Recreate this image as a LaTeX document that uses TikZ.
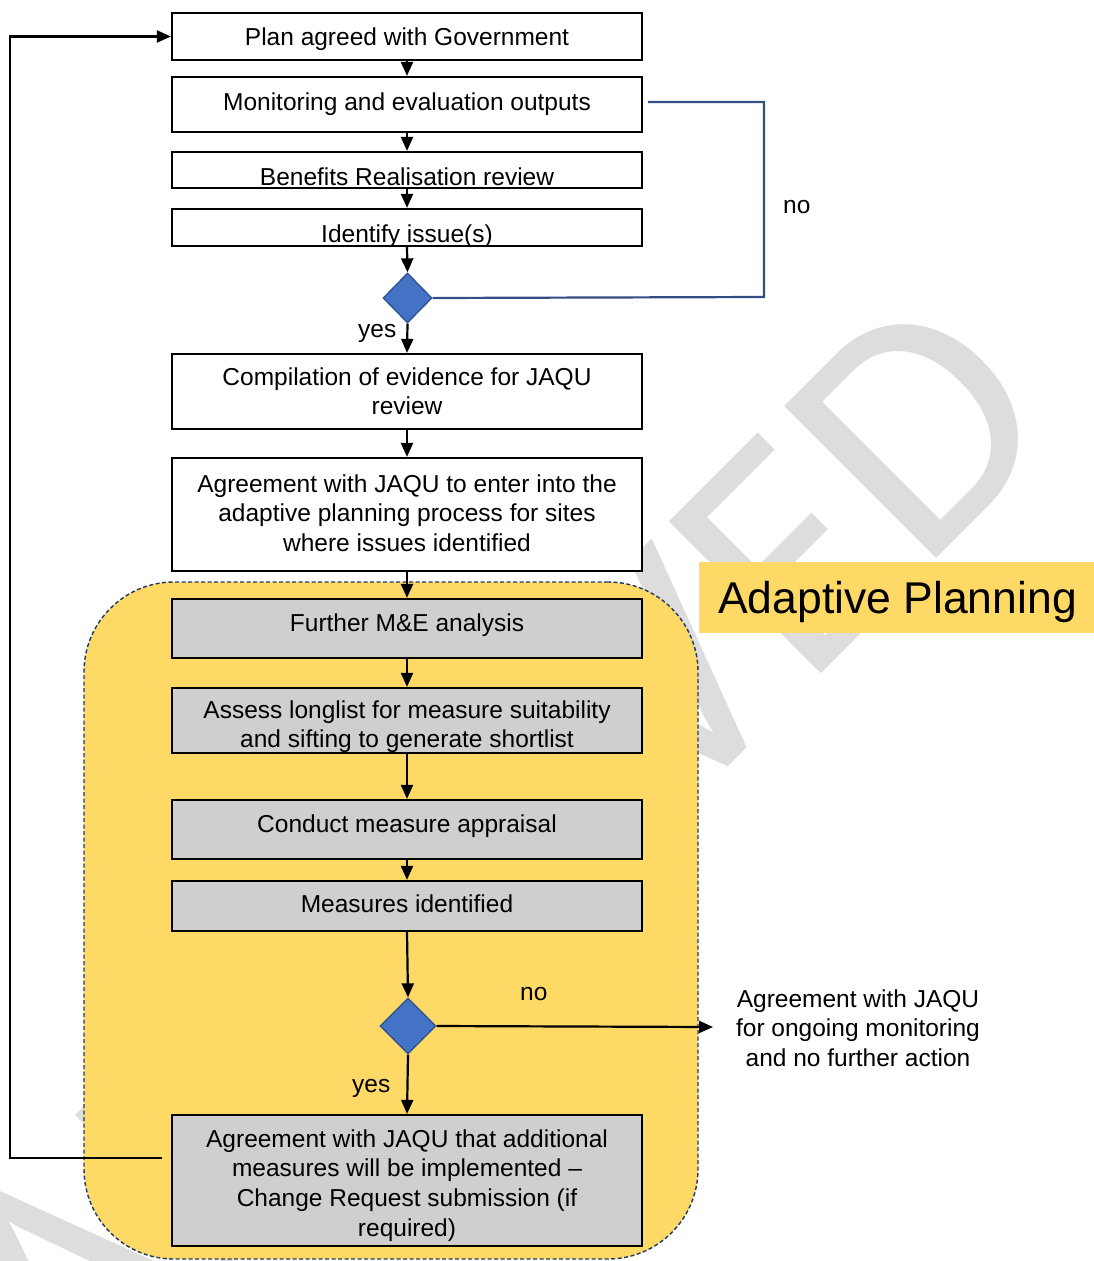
\documentclass[tikz,border=0pt]{standalone}
\usepackage{fontspec}
\setmainfont{Liberation Sans}
\newfontfamily\wmfont{Carlito}
\usetikzlibrary{shapes.geometric,arrows.meta}
\definecolor{apyellow}{RGB}{255,217,102}
\definecolor{boxgray}{RGB}{207,207,207}
\definecolor{dnavy}{RGB}{32,56,100}
\definecolor{dblue}{RGB}{68,114,196}
\definecolor{dblueedge}{RGB}{47,82,143}
\definecolor{loopblue}{RGB}{50,78,130}
\definecolor{wmgray}{RGB}{221,221,221}
\newcommand{\mltext}[1]{\parbox[t]{470pt}{\centering #1}}
\begin{document}
\begin{tikzpicture}[x=1pt,y=-1pt,
  wbox/.style={rectangle, draw=black, line width=2.2pt, fill=white, minimum width=470pt, inner sep=0pt},
  gbox/.style={wbox, fill=boxgray},
  txt/.style={inner sep=0pt, anchor=base, font=\fontsize{24.5}{29.7}\selectfont},
  arr/.style={line width=2.2pt, -{Triangle[length=14pt,width=12pt]}},
  blueline/.style={line width=2.2pt, draw=loopblue},
  dec/.style={diamond, draw=dblueedge, fill=dblue, line width=1.3pt, inner sep=0pt, aspect=1},
]
\useasboundingbox (0,0) rectangle (1094,1261);
\fill[white] (0,0) rectangle (1094,1261);

% watermark
\node[rotate=45, anchor=base east, inner sep=0pt, text=wmgray,
      font=\wmfont\fontsize{335}{335}\selectfont] (wm) at (1066,429) {ARCHIVED};

% adaptive planning region
\node[rectangle, draw=dnavy, fill=apyellow, line width=1.4pt, dash pattern=on 4pt off 2.5pt,
      rounded corners=90pt, minimum width=614pt, minimum height=677pt, inner sep=0pt] (region) at (391,920.5) {};

% adaptive planning title
\node[rectangle, fill=apyellow, minimum width=395pt, minimum height=71pt, inner sep=0pt] (aptitle) at (896.5,597.5) {};
\node[inner sep=0pt, anchor=base west, font=\fontsize{44.5}{50}\selectfont] (aptext) at (718,613) {Adaptive Planning};

% boxes
\node[wbox, minimum height=47pt] (b1) at (407,36.5) {};
\node[wbox, minimum height=55pt] (b2) at (407,104.5) {};
\node[wbox, minimum height=36pt] (b3) at (407,170) {};
\node[wbox, minimum height=37pt] (b4) at (407,227.5) {};
\node[dec, minimum width=49pt, minimum height=50pt] (d1) at (407.5,298) {};
\node[wbox, minimum height=75pt] (b5) at (407,391.5) {};
\node[wbox, minimum height=113pt] (b6) at (407,514.5) {};
\node[gbox, minimum height=59pt] (b7) at (407,628.5) {};
\node[gbox, minimum height=65pt] (b8) at (407,720.5) {};
\node[gbox, minimum height=59pt] (b9) at (407,829.5) {};
\node[gbox, minimum height=50pt] (b10) at (407,906) {};
\node[dec, minimum width=56pt, minimum height=56pt] (d2) at (408,1026) {};
\node[gbox, minimum height=131pt] (b11) at (407,1180.5) {};

% texts
\node[txt] (t1) at (407,45) {Plan agreed with Government};
\node[txt] (t2) at (407,110) {Monitoring and evaluation outputs};
\node[txt] (t3) at (407,185) {Benefits Realisation review};
\node[txt] (t4) at (407,242) {Identify issue(s)};
\node[txt] (t5) at (407,385) {\mltext{Compilation of evidence for JAQU\\review}};
\node[txt] (t6) at (407,492) {\mltext{Agreement with JAQU to enter into the\\adaptive planning process for sites\\where issues identified}};
\node[txt] (t7) at (407,631) {Further M\&E analysis};
\node[txt] (t8) at (407,718) {\mltext{Assess longlist for measure suitability\\and sifting to generate shortlist}};
\node[txt] (t9) at (407,832) {Conduct measure appraisal};
\node[txt] (t10) at (407,912) {Measures identified};
\node[txt] (t11) at (407,1147) {\mltext{Agreement with JAQU that additional\\measures will be implemented --\\Change Request submission (if\\required)}};
\node[txt] (tout) at (858,1007) {\mltext{Agreement with JAQU\\for ongoing monitoring\\and no further action}};

% labels
\node[txt, anchor=base west] (no1) at (783,213) {no};
\node[txt, anchor=base west] (yes1) at (358,337) {yes};
\node[txt, anchor=base west] (no2) at (520,1000) {no};
\node[txt, anchor=base west] (yes2) at (352,1092) {yes};

% connectors
\draw[arr] (b1) -- (b2);
\draw[arr] (b2) -- (b3);
\draw[arr] (b3) -- (b4);
\draw[arr] (b4.south) -- (d1.north);
\draw[arr] (d1.south) -- (b5.north);
\draw[arr] (b5) -- (b6);
\draw[arr] (b6) -- (b7);
\draw[arr] (b7) -- (b8);
\draw[arr] (b8) -- (b9);
\draw[arr] (b9) -- (b10);
\draw[arr] (b10.south) -- (d2.north);
\draw[arr] (d2.south) -- (b11.north);
\coordinate (outtip) at (713,1027);
\draw[arr] (d2.east) -- (outtip);

\coordinate (loopstart) at (162,1158);
\coordinate (loopcorner) at (10,1158);
\draw[arr] (loopstart) -- (loopcorner) |- (b1.west);

\coordinate (bluecorner) at (764,297);
\coordinate (blueend) at (648,102);
\draw[blueline] (d1.east) -- (bluecorner) |- (blueend);
\end{tikzpicture}
\end{document}
